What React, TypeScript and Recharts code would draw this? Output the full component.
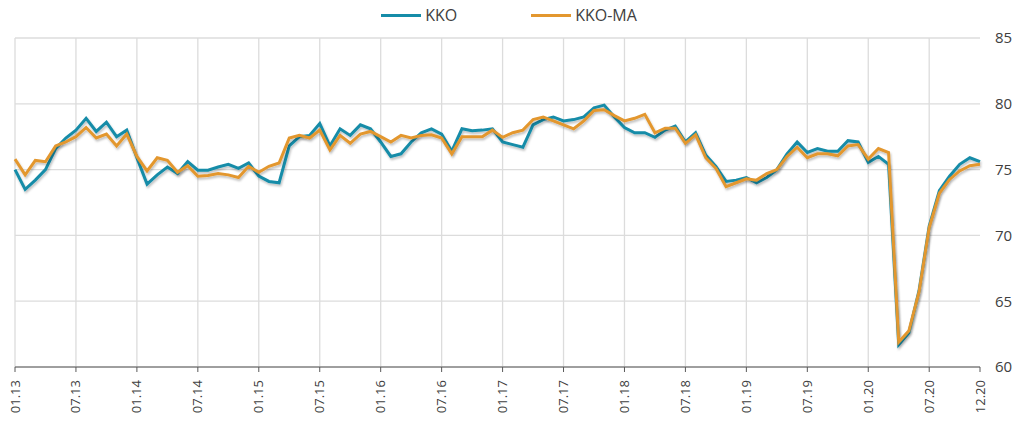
import { LineChart, Line, XAxis, YAxis, CartesianGrid, Legend } from "recharts";

const KKO = [
  75.0, 73.5, 74.2, 75.0, 76.6, 77.4, 78.0, 78.9, 77.9, 78.6, 77.5, 78.0,
  75.9, 73.9, 74.6, 75.2, 74.7, 75.6, 74.95, 74.95, 75.2, 75.4, 75.1, 75.5,
  74.5, 74.1, 74.0, 76.8, 77.5, 77.6, 78.5, 76.8, 78.1, 77.6, 78.4, 78.1,
  77.1, 76.0, 76.2, 77.1, 77.8, 78.1, 77.7, 76.4, 78.1, 77.95, 78.0, 78.1,
  77.1, 76.9, 76.7, 78.4, 78.8, 79.0, 78.7, 78.8, 79.0, 79.7, 79.9, 79.0,
  78.2, 77.8, 77.8, 77.45, 78.0, 78.3, 77.1, 77.8, 76.1, 75.25, 74.1, 74.2,
  74.4, 74.0, 74.4, 75.0, 76.2, 77.1, 76.3, 76.6, 76.4, 76.4, 77.2, 77.1,
  75.55, 76.0, 75.4, 61.7, 62.6, 65.8, 70.7, 73.4, 74.5, 75.4, 75.9, 75.6,
];

const KKO_MA = [
  75.8, 74.6, 75.7, 75.6, 76.8, 77.1, 77.5, 78.2, 77.4, 77.7, 76.8, 77.7,
  76.0, 74.9, 75.9, 75.7, 74.8, 75.3, 74.5, 74.55, 74.7, 74.6, 74.4, 75.25,
  74.8, 75.25, 75.5, 77.4, 77.6, 77.4, 78.0, 76.5, 77.6, 77.0, 77.7, 77.9,
  77.5, 77.1, 77.6, 77.4, 77.6, 77.65, 77.4, 76.2, 77.5, 77.5, 77.5, 78.0,
  77.45, 77.8, 78.0, 78.8, 79.0, 78.7, 78.4, 78.1, 78.7, 79.5, 79.55, 79.1,
  78.7, 78.9, 79.2, 77.8, 78.15, 78.15, 77.0, 77.65, 75.9, 75.1, 73.7, 74.0,
  74.3, 74.2, 74.7, 75.0, 76.0, 76.7, 75.9, 76.2, 76.2, 76.05, 76.8, 76.9,
  75.8, 76.6, 76.3, 61.9, 62.75, 65.7, 70.6, 73.2, 74.25, 74.9, 75.3, 75.4,
];

const YEARS = ["13", "14", "15", "16", "17", "18", "19", "20"];
const MONTHS = ["01", "02", "03", "04", "05", "06", "07", "08", "09", "10", "11", "12"];

const X_TICKS = [
  "01.13", "07.13", "01.14", "07.14", "01.15", "07.15", "01.16", "07.16",
  "01.17", "07.17", "01.18", "07.18", "01.19", "07.19", "01.20", "07.20", "12.20",
];
const Y_TICKS = [60, 65, 70, 75, 80, 85];

const TEAL = "#168ca8";
const ORANGE = "#e3972f";

const categories = YEARS.flatMap((y) => MONTHS.map((m) => `${m}.${y}`));
const data = categories.map((month, i) => ({ month, KKO: KKO[i], "KKO-MA": KKO_MA[i] }));

const font = "'Open Sans', 'Noto Sans', sans-serif";

function RotatedTick(props: any) {
  const { x, y, payload } = props;
  return (
    <text
      x={x}
      y={y + 6}
      transform={`rotate(-90, ${x}, ${y + 6})`}
      textAnchor="end"
      dy="0.35em"
      fontSize={13}
      fontFamily={font}
      fill="#404040"
    >
      {payload.value}
    </text>
  );
}

function LegendContent() {
  const items = [
    { name: "KKO", color: TEAL },
    { name: "KKO-MA", color: ORANGE },
  ];
  return (
    <div style={{ display: "flex", justifyContent: "center", gap: 74, height: 24, alignItems: "center", fontFamily: font, fontSize: 16, color: "#404040" }}>
      {items.map((it) => (
        <div key={it.name} style={{ display: "flex", alignItems: "center", gap: 4 }}>
          <div style={{ width: 40, height: 3, background: it.color }} />
          <span>{it.name}</span>
        </div>
      ))}
    </div>
  );
}

// vertical grid at every x tick except the closing 12.20 one
const verticalGrid = ({ offset }: any) =>
  X_TICKS.slice(0, -1).map(
    (t) => offset.left + (offset.width * categories.indexOf(t)) / (categories.length - 1)
  );

export default function App() {
  return (
    <div style={{ position: "absolute", left: 0, top: 0, width: 1018, height: 426, background: "#fff" }}>
      <LineChart width={1018} height={426} data={data} margin={{ top: 14, right: 0, left: 15, bottom: 0 }}>
        <defs>
          <filter id="shadow" x="-5%" y="-5%" width="110%" height="120%">
            <feDropShadow dx="1" dy="2" stdDeviation="1.2" floodColor="#000" floodOpacity="0.25" />
          </filter>
        </defs>
        <Legend verticalAlign="top" content={<LegendContent />} wrapperStyle={{ left: 0, width: 1018, top: 3 }} />
        <CartesianGrid stroke="#dcdcdc" strokeWidth={1.3} verticalCoordinatesGenerator={verticalGrid} />
        <XAxis
          dataKey="month"
          ticks={X_TICKS}
          interval={0}
          tick={<RotatedTick />}
          height={59}
          stroke="#595959"
          tickSize={5}
        />
        <YAxis
          orientation="right"
          domain={[60, 85]}
          ticks={Y_TICKS}
          axisLine={false}
          tickLine={false}
          width={38}
          tick={{ fontSize: 15, fontFamily: font, fill: "#404040", dx: 7 }}
        />
        <Line type="linear" dataKey="KKO" stroke={TEAL} strokeWidth={3} dot={false} isAnimationActive={false} filter="url(#shadow)" />
        <Line type="linear" dataKey="KKO-MA" stroke={ORANGE} strokeWidth={3} dot={false} isAnimationActive={false} filter="url(#shadow)" />
      </LineChart>
    </div>
  );
}
